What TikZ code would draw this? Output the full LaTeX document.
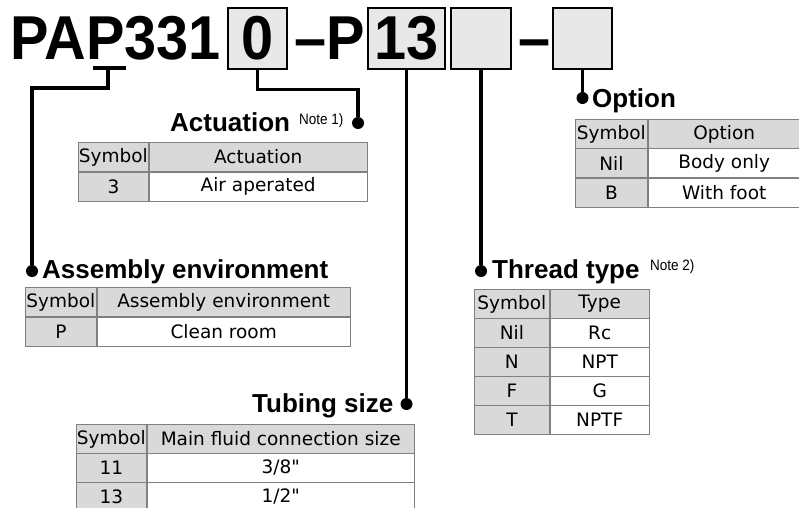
\documentclass[tikz,border=0pt]{standalone}
\usepackage{fontspec}
\setmainfont{DejaVu Sans}
\newfontfamily\codefont[FakeStretch=0.93]{Liberation Sans Bold}
\newfontfamily\headfont{Liberation Sans Bold}
\newfontfamily\notefont[FakeStretch=0.9]{Liberation Sans}
\usetikzlibrary{positioning}
\definecolor{boxgray}{HTML}{E8E8E8}
\definecolor{cellgray}{HTML}{D9D9D9}
\definecolor{cellline}{HTML}{808080}
\tikzset{
	code/.style={font=\codefont\fontsize{62}{62}\selectfont, inner sep=0pt, anchor=base west},
	codebox/.style={draw, line width=2.5pt, fill=boxgray, minimum height=61pt, inner sep=0pt, text depth=1.5pt, font=\codefont\fontsize{62}{62}\selectfont},
	lead/.style={line width=3.2pt},
	dot/.style={circle, fill, inner sep=0pt, minimum size=12pt},
	heading/.style={font=\headfont\fontsize{26}{26}\selectfont, inner sep=0pt, anchor=base west},
	note/.style={font=\notefont\fontsize{15}{15}\selectfont, inner sep=0pt, anchor=base west},
	cell/.style={draw=cellline, line width=0.8pt, minimum height=29pt, inner sep=0pt, font=\fontsize{18.5}{18.5}\selectfont, anchor=north west},
	graycell/.style={cell, fill=cellgray},
	whitecell/.style={cell, fill=white},
}
\begin{document}
\begin{tikzpicture}[x=1pt,y=-1pt]
	\useasboundingbox (0,0) rectangle (799,507);
	\clip (0,0) rectangle (799,507);
	% ma san pham
	\node[code] (pap) at (10,59) {PAP331};
	\node[codebox, minimum width=59pt] (b0) at (257.5,38.5) {0};
	\node[code] (dashp) at (294,59) {–P};
	\node[codebox, minimum width=77pt] (b13) at (406.5,38.5) {13};
	\node[codebox, minimum width=60pt] (b3) at (481,38.5) {};
	\node[code] (dash) at (518,59) {–};
	\node[codebox, minimum width=59pt] (b4) at (582.5,38.5) {};
	\coordinate (uL) at (93,68);
	\coordinate (uR) at (126,68);
	\coordinate (uM) at (108,68);
	% cac diem dau
	\node[dot] (act-dot) at (358,123) {};
	\node[dot] (opt-dot) at (582.5,98) {};
	\node[dot] (asm-dot) at (32,271) {};
	\node[dot] (thr-dot) at (481,271) {};
	\node[dot] (tub-dot) at (406.5,404) {};
	\draw[lead] (uL) -- (uR);
	\draw[lead] (uM) -- ++(0,20) -| (asm-dot);
	\draw[lead] (b0.south) -- ++(0,19) -| (act-dot);
	\draw[lead] (b13) -- (tub-dot);
	\draw[lead] (b3) -- (thr-dot);
	\draw[lead] (b4) -- (opt-dot);
	% tieu de
	\node[heading] (act-title) at (170,131) {Actuation};
	\node[note] (act-note) at (299,124) {Note 1)};
	\node[heading] (opt-title) at (592,107) {Option};
	\node[heading] (asm-title) at (42,278) {Assembly environment};
	\node[heading] (thr-title) at (492,278) {Thread type};
	\node[note] (thr-note) at (650,270) {Note 2)};
	\node[heading] (tub-title) at (252,412) {Tubing size};
	% Actuation
	\node[graycell, minimum width=70pt] (act-h1) at (78,142) {Symbol};
	\node[graycell, minimum width=218pt, right=0pt of act-h1] (act-h2) {Actuation};
	\node[graycell, minimum width=70pt, below=0pt of act-h1] (act-s1) {3};
	\node[whitecell, minimum width=218pt, right=0pt of act-s1] (act-d1) {Air aperated};
	% Option
	\node[graycell, minimum width=72pt] (opt-h1) at (575,119) {Symbol};
	\node[graycell, minimum width=152pt, right=0pt of opt-h1] (opt-h2) {Option};
	\foreach \s/\d [count=\i] in {Nil/Body only, B/With foot}{
		\node[graycell, minimum width=72pt] (opt-s\i) at (575,{119+29.3*\i}) {\s};
		\node[whitecell, minimum width=152pt, right=0pt of opt-s\i] (opt-d\i) {\d};
	}
	% Assembly environment
	\node[graycell, minimum width=71pt] (asm-h1) at (25,287) {Symbol};
	\node[graycell, minimum width=253pt, right=0pt of asm-h1] (asm-h2) {Assembly environment};
	\node[graycell, minimum width=71pt, below=0pt of asm-h1] (asm-s1) {P};
	\node[whitecell, minimum width=253pt, right=0pt of asm-s1] (asm-d1) {Clean room};
	% Thread type
	\node[graycell, minimum width=75pt] (thr-h1) at (474,289) {Symbol};
	\node[graycell, minimum width=99pt, right=0pt of thr-h1] (thr-h2) {Type};
	\foreach \s/\d [count=\i] in {Nil/Rc, N/NPT, F/G, T/NPTF}{
		\node[graycell, minimum width=75pt] (thr-s\i) at (474,{289+29*\i}) {\s};
		\node[whitecell, minimum width=99pt, right=0pt of thr-s\i] (thr-d\i) {\d};
	}
	% Tubing size
	\node[graycell, minimum width=70pt] (tub-h1) at (76,424) {Symbol};
	\node[graycell, minimum width=267pt, right=0pt of tub-h1] (tub-h2) {Main fluid connection size};
	\foreach \s/\d [count=\i] in {11/{3/8\textquotedbl}, 13/{1/2\textquotedbl}}{
		\node[graycell, minimum width=70pt] (tub-s\i) at (76,{424+29*\i}) {\s};
		\node[whitecell, minimum width=267pt, right=0pt of tub-s\i] (tub-d\i) {\d};
	}
\end{tikzpicture}
\end{document}
